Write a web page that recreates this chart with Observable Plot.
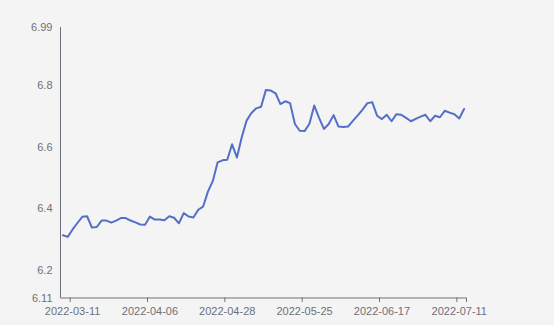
<!DOCTYPE html>
<html>
<head>
<meta charset="utf-8">
<script src="https://cdn.jsdelivr.net/npm/d3@7"></script>
<script src="https://cdn.jsdelivr.net/npm/@observablehq/plot@0.6"></script>
<style>
  html, body { margin: 0; padding: 0; background: #f4f4f4; }
  #chart svg { display: block; background: #f4f4f4; }
</style>
</head>
<body>
<div id="chart"></div>
<script>
// Daily values (trading-day categories, 2022-03-09 .. 2022-07-12)
const values = [
  6.314, 6.309, 6.333, 6.354, 6.374, 6.376, 6.339, 6.341, 6.362, 6.362,
  6.355, 6.362, 6.370, 6.370, 6.362, 6.356, 6.349, 6.348, 6.375, 6.365,
  6.365, 6.363, 6.376, 6.371, 6.353, 6.386, 6.375, 6.372, 6.397, 6.407,
  6.456, 6.490, 6.551, 6.558, 6.560, 6.610, 6.567, 6.633, 6.687, 6.712,
  6.727, 6.732, 6.787, 6.785, 6.776, 6.741, 6.750, 6.744, 6.676, 6.654,
  6.653, 6.677, 6.736, 6.696, 6.660, 6.676, 6.705, 6.668, 6.666, 6.668,
  6.686, 6.704, 6.723, 6.744, 6.747, 6.703, 6.692, 6.706, 6.685, 6.708,
  6.706, 6.696, 6.685, 6.693, 6.700, 6.706, 6.685, 6.703, 6.698, 6.719,
  6.713, 6.708, 6.694, 6.725
];
// Category indices that carry a date label, and those labels
const labelIndex = [2, 18, 34, 50, 66, 82];
const tickLabels = ["2022-03-11", "2022-04-06", "2022-04-28", "2022-05-25", "2022-06-17", "2022-07-11"];
// Y-axis extent and ticks
const yMin = 6.11, yMax = 6.99;
const yTicks = [6.11, 6.2, 6.4, 6.6, 6.8, 6.99];

const data = values.map((v, i) => ({i, v}));
const n = values.length;
const xDomain = [-0.5, n - 0.5];
const boundaryTicks = labelIndex.map(i => i - 0.5).concat([n - 0.5]);
const labelOf = new Map(labelIndex.map((i, k) => [i, tickLabels[k]]));

const axisColor = "#6e7079";
const font = "Liberation Sans, Arial, sans-serif";

const chart = Plot.plot({
  width: 554,
  height: 325,
  marginLeft: 60,
  marginRight: 88,
  marginTop: 27,
  marginBottom: 27.5,
  style: {background: "#f4f4f4", fontFamily: font, fontSize: "11px", color: axisColor},
  x: {type: "linear", domain: xDomain},
  y: {type: "linear", domain: [yMin, yMax]},
  marks: [
    Plot.axisY({ticks: yTicks, tickFormat: d => String(d), tickSize: 0, tickPadding: 8, label: null, fill: axisColor, fontSize: 11}),
    Plot.axisX({ticks: boundaryTicks, tickFormat: () => "", tickSize: 4.5, stroke: axisColor, label: null}),
    Plot.axisX({ticks: labelIndex, tickFormat: i => labelOf.get(i), tickSize: 0, tickPadding: 9, label: null, fill: axisColor, fontSize: 11}),
    Plot.ruleX([xDomain[0]], {y1: yMin, y2: yMax, stroke: axisColor, strokeWidth: 1}),
    Plot.ruleY([yMin], {x1: xDomain[0], x2: xDomain[1], stroke: axisColor, strokeWidth: 1}),
    Plot.line(data, {x: "i", y: "v", stroke: "#5470c6", strokeWidth: 2, strokeLinejoin: "round", strokeLinecap: "round"})
  ]
});
document.getElementById("chart").appendChild(chart);
</script>
</body>
</html>
